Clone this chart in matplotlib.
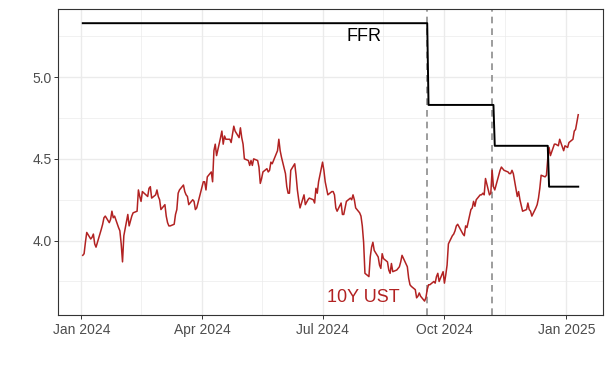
import numpy as np
import pandas as pd
import matplotlib
matplotlib.use("Agg")
from matplotlib import pyplot as plt

plt.rcParams["font.family"] = ["Liberation Sans", "DejaVu Sans"]

# -------------------------
# dados
# -------------------------
ust_dias = {
    "2024-01": [2, 3, 4, 5, 8, 9, 10, 11, 12, 16, 17, 18, 19, 22, 23, 24, 25, 26, 29, 30, 31],
    "2024-02": [1, 2, 5, 6, 7, 8, 9, 12, 13, 14, 15, 16, 20, 21, 22, 23, 26, 27, 28, 29],
    "2024-03": [1, 4, 5, 6, 7, 8, 11, 12, 13, 14, 15, 18, 19, 20, 21, 22, 25, 26, 27, 28],
    "2024-04": [1, 2, 3, 4, 5, 8, 9, 10, 11, 12, 15, 16, 17, 18, 19, 22, 23, 24, 25, 26, 29, 30],
    "2024-05": [1, 2, 3, 6, 7, 8, 9, 10, 13, 14, 15, 16, 17, 20, 21, 22, 23, 24, 28, 29, 30, 31],
    "2024-06": [3, 4, 5, 6, 7, 10, 11, 12, 13, 14, 17, 18, 20, 21, 24, 25, 26, 27, 28],
    "2024-07": [1, 2, 3, 5, 8, 9, 10, 11, 12, 15, 16, 17, 18, 19, 22, 23, 24, 25, 26, 29, 30, 31],
    "2024-08": [1, 2, 5, 6, 7, 8, 9, 12, 13, 14, 15, 16, 19, 20, 21, 22, 23, 26, 27, 28, 29, 30],
    "2024-09": [3, 4, 5, 6, 9, 10, 11, 12, 13, 16, 17, 18, 19, 20, 23, 24, 25, 26, 27, 30],
    "2024-10": [1, 2, 3, 4, 7, 8, 9, 10, 11, 15, 16, 17, 18, 21, 22, 23, 24, 25, 28, 29, 30, 31],
    "2024-11": [1, 4, 5, 6, 7, 8, 12, 13, 14, 15, 18, 19, 20, 21, 22, 25, 26, 27, 29],
    "2024-12": [2, 3, 4, 5, 6, 9, 10, 11, 12, 13, 16, 17, 18, 19, 20, 23, 24, 26, 27, 30, 31],
    "2025-01": [2, 3, 6, 7, 8, 10],
}

ust_valores = [
    # jan
    3.91, 3.92, 3.99, 4.05, 4.01, 4.02, 4.04, 3.98, 3.96, 4.07, 4.10, 4.14, 4.15, 4.11, 4.13, 4.18, 4.14, 4.15, 4.08, 4.06, 3.98,
    # fev
    3.87, 4.03, 4.16, 4.09, 4.12, 4.15, 4.17, 4.18, 4.31, 4.27, 4.24, 4.30, 4.27, 4.32, 4.33, 4.26, 4.28, 4.31, 4.27, 4.25,
    # mar
    4.19, 4.22, 4.15, 4.11, 4.09, 4.09, 4.10, 4.16, 4.19, 4.29, 4.31, 4.34, 4.30, 4.28, 4.27, 4.22, 4.25, 4.24, 4.19, 4.20,
    # abr
    4.33, 4.36, 4.36, 4.31, 4.39, 4.42, 4.36, 4.55, 4.59, 4.52, 4.63, 4.67, 4.59, 4.64, 4.62, 4.62, 4.60, 4.65, 4.70, 4.67, 4.63, 4.69,
    # mai
    4.63, 4.59, 4.50, 4.49, 4.46, 4.49, 4.46, 4.50, 4.49, 4.45, 4.35, 4.38, 4.42, 4.44, 4.42, 4.43, 4.48, 4.47, 4.55, 4.62, 4.55, 4.51,
    # jun
    4.41, 4.33, 4.29, 4.29, 4.43, 4.47, 4.40, 4.31, 4.25, 4.20, 4.28, 4.22, 4.25, 4.26, 4.25, 4.23, 4.32, 4.29, 4.36,
    # jul
    4.48, 4.43, 4.36, 4.28, 4.30, 4.30, 4.28, 4.20, 4.18, 4.23, 4.16, 4.16, 4.20, 4.24, 4.26, 4.25, 4.28, 4.25, 4.20, 4.17, 4.15, 4.09,
    # ago
    3.99, 3.80, 3.78, 3.90, 3.96, 3.99, 3.94, 3.90, 3.85, 3.83, 3.92, 3.89, 3.87, 3.82, 3.80, 3.86, 3.81, 3.82, 3.83, 3.84, 3.87, 3.91,
    # set
    3.84, 3.77, 3.73, 3.72, 3.70, 3.65, 3.66, 3.68, 3.66, 3.63, 3.65, 3.70, 3.73, 3.73, 3.75, 3.74, 3.78, 3.80, 3.75, 3.81,
    # out
    3.74, 3.79, 3.85, 3.98, 4.03, 4.04, 4.06, 4.09, 4.10, 4.04, 4.03, 4.09, 4.08, 4.19, 4.20, 4.24, 4.21, 4.25, 4.28, 4.28, 4.29, 4.28,
    # nov
    4.38, 4.28, 4.29, 4.43, 4.33, 4.31, 4.43, 4.45, 4.44, 4.43, 4.42, 4.41, 4.41, 4.43, 4.41, 4.27, 4.30, 4.25, 4.18,
    # dez
    4.19, 4.23, 4.19, 4.18, 4.15, 4.20, 4.22, 4.26, 4.32, 4.40, 4.39, 4.40, 4.50, 4.57, 4.52, 4.59, 4.59, 4.58, 4.62, 4.55, 4.58,
    # jan 2025
    4.57, 4.60, 4.62, 4.67, 4.68, 4.77,
]

ffr_datas = ["2024-01-02", "2024-09-18", "2024-09-19", "2024-11-07",
             "2024-11-08", "2024-12-18", "2024-12-19", "2025-01-10"]
ffr_valores = [5.33, 5.33, 4.83, 4.83, 4.58, 4.58, 4.33, 4.33]

eventos = ["2024-09-18", "2024-11-06"]

ticks_x = ["2024-01-01", "2024-04-01", "2024-07-01", "2024-10-01", "2025-01-01"]
ticks_x_rotulos = ["Jan 2024", "Apr 2024", "Jul 2024", "Oct 2024", "Jan 2025"]
ticks_x_menores = ["2024-02-15", "2024-05-16", "2024-08-16", "2024-11-16"]
ticks_y = [4.0, 4.5, 5.0]
ticks_y_menores = [3.75, 4.25, 4.75, 5.25]

ust_datas = pd.to_datetime([f"{mes}-{d:02d}" for mes, dias in ust_dias.items() for d in dias])
ffr_datas = pd.to_datetime(ffr_datas)

# -------------------------
# gráfico
# -------------------------
cinza_grade = "#EBEBEB"
vermelho = "#B22222"

fig = plt.figure(figsize=(6.12, 3.68), dpi=100)
ax = fig.add_axes([58 / 612, 1 - 315 / 368, (603 - 58) / 612, (315 - 9.3) / 368])

for ev in eventos:
    ax.axvline(pd.Timestamp(ev), color="#8C8C8C", linewidth=1.2, linestyle=(0, (4, 3)), zorder=2)

ax.plot(ust_datas, ust_valores, color=vermelho, linewidth=1.1, zorder=3)
ax.plot(ffr_datas, ffr_valores, color="black", linewidth=1.4, zorder=4)

ax.text(pd.Timestamp("2024-08-01"), 5.25, "FFR", color="black", fontsize=13,
        ha="center", va="center", zorder=5)
ax.text(pd.Timestamp("2024-08-01"), 3.65, "10Y UST", color=vermelho, fontsize=13,
        ha="center", va="center", zorder=5)

# Eixos
ax.margins(x=0.05, y=0.05)
ax.set_xticks(pd.to_datetime(ticks_x))
ax.set_xticklabels(ticks_x_rotulos)
ax.set_xticks(pd.to_datetime(ticks_x_menores), minor=True)
ax.set_yticks(ticks_y)
ax.set_yticklabels([f"{v:.1f}" for v in ticks_y])
ax.set_yticks(ticks_y_menores, minor=True)

ax.grid(True, which="major", color=cinza_grade, linewidth=1.0, zorder=0)
ax.grid(True, which="minor", color=cinza_grade, linewidth=0.5, zorder=0)
ax.set_axisbelow(True)

ax.tick_params(axis="both", which="major", length=3, width=0.7, color="#333333",
               labelsize=10, labelcolor="#4D4D4D")
ax.tick_params(axis="x", which="major", pad=3)
ax.tick_params(axis="y", which="major", pad=1.5)
ax.tick_params(axis="both", which="minor", length=0)
for s in ax.spines.values():
    s.set_color("#333333")
    s.set_linewidth(0.8)

fig.savefig("out.png", dpi=100)
